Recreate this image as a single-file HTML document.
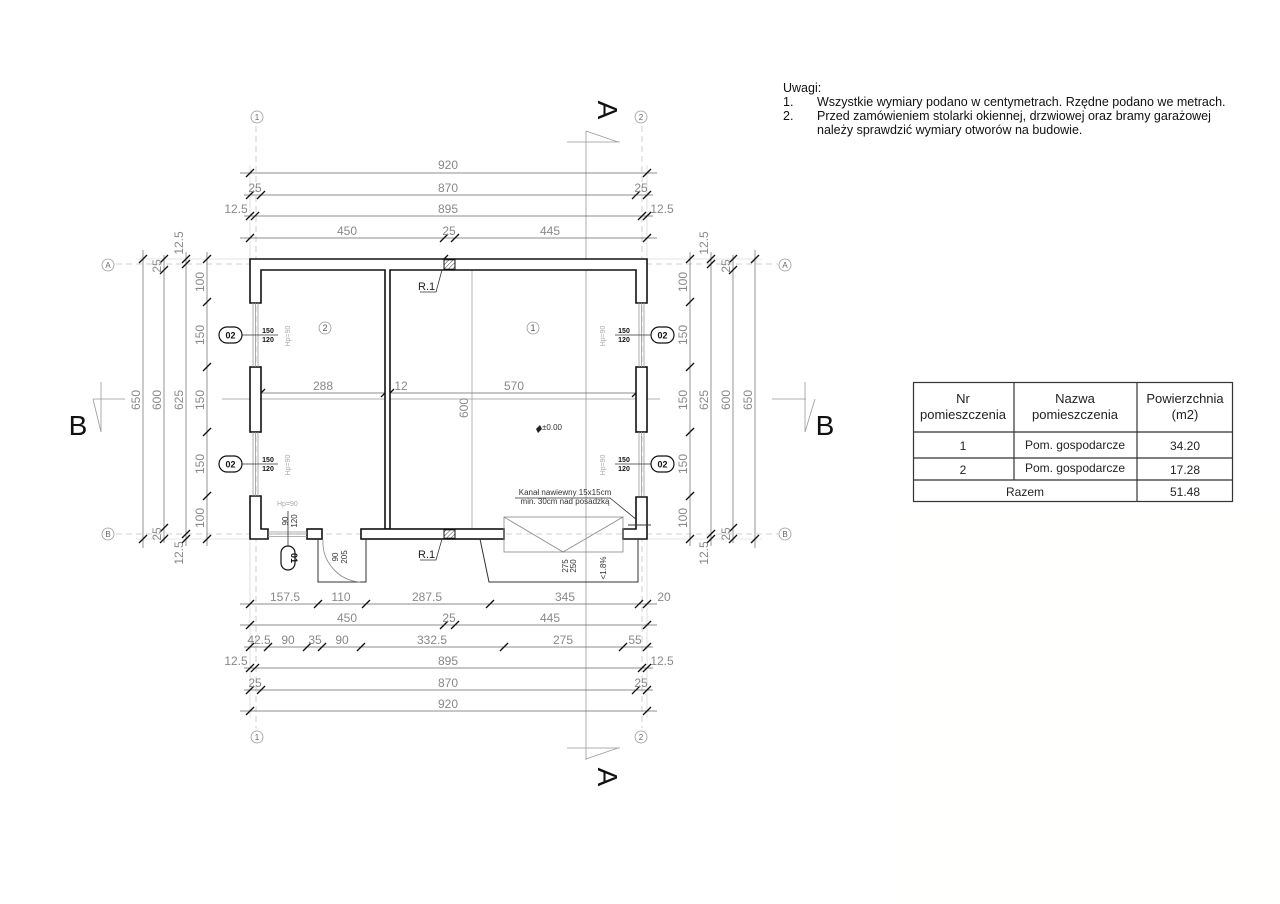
<!DOCTYPE html>
<html><head><meta charset="utf-8"><style>
html,body{margin:0;padding:0;background:#fff;}
svg{display:block;font-family:"Liberation Sans",sans-serif;}
.d{fill:#888;font-size:12px;text-anchor:middle;}
.dl{stroke:#666;stroke-width:0.7;fill:none;}
.ax{stroke:#c4c4c4;stroke-width:0.8;stroke-dasharray:6 4;fill:none;}
.w{fill:#fff;stroke:#111;stroke-width:1.6;}
.t line{stroke:#111;stroke-width:1.3;}
.note{font-size:12.5px;fill:#111;}
</style></head><body>
<svg width="1280" height="904" viewBox="0 0 1280 904" xmlns="http://www.w3.org/2000/svg">
<defs>
<g id="t" class="t"><line x1="-4" y1="4" x2="4" y2="-4"/></g>
<pattern id="h" width="3" height="3" patternUnits="userSpaceOnUse" patternTransform="rotate(45)"><line x1="0" y1="0" x2="0" y2="3" stroke="#444" stroke-width="1"/></pattern>
</defs>
<rect x="900" y="515" width="380" height="389" fill="#fffffd"/>

<text class="note" x="783" y="92">Uwagi:</text>
<text class="note" x="783" y="106">1.</text><text class="note" x="817" y="106">Wszystkie wymiary podano w centymetrach. Rzędne podano we metrach.</text>
<text class="note" x="783" y="120">2.</text><text class="note" x="817" y="120">Przed zamówieniem stolarki okiennej, drzwiowej oraz bramy garażowej</text>
<text class="note" x="817" y="134">należy sprawdzić wymiary otworów na budowie.</text>

<line class="ax" x1="116" y1="264" x2="778" y2="264"/>
<line class="ax" x1="116" y1="534" x2="778" y2="534"/>
<line class="ax" x1="256" y1="126" x2="256" y2="728"/>
<line class="ax" x1="642" y1="126" x2="642" y2="728"/>
<g fill="#fff" stroke="#999" stroke-width="0.8">
<circle cx="257" cy="117" r="6"/><circle cx="641" cy="117" r="6"/>
<circle cx="257" cy="737" r="6"/><circle cx="641" cy="737" r="6"/>
<circle cx="108" cy="265" r="6"/><circle cx="785" cy="265" r="6"/>
<circle cx="108" cy="534" r="6"/><circle cx="785" cy="534" r="6"/>
</g>
<g fill="#666" font-size="8" text-anchor="middle">
<text x="257" y="120">1</text><text x="641" y="120">2</text>
<text x="257" y="740">1</text><text x="641" y="740">2</text>
<text x="108" y="268">A</text><text x="785" y="268">A</text>
<text x="108" y="537">B</text><text x="785" y="537">B</text>
</g>

<g stroke="#999" stroke-width="0.8" fill="none">
<line x1="586" y1="131" x2="586" y2="760"/>
<line x1="567" y1="142" x2="620" y2="142"/><line x1="586" y1="131" x2="618" y2="142"/>
<line x1="567" y1="748" x2="620" y2="748"/><line x1="586" y1="759" x2="618" y2="748"/>
<line x1="93" y1="399" x2="125" y2="399"/><line x1="101" y1="382" x2="101" y2="432"/><line x1="93" y1="399" x2="101" y2="432"/>
<line x1="772" y1="399" x2="806" y2="399"/><line x1="805" y1="382" x2="805" y2="432"/><line x1="815" y1="399" x2="805" y2="432"/>
<line x1="222" y1="399" x2="660" y2="399"/>
</g>
<g font-size="28" fill="#111" text-anchor="middle">
<text transform="translate(598,110) rotate(90)">A</text>
<text transform="translate(598,777) rotate(90)">A</text>
<text x="78" y="435">B</text><text x="825" y="435">B</text>
</g>

<g stroke="#ccc" stroke-width="0.6">
<line x1="250" y1="165" x2="250" y2="259"/><line x1="647" y1="165" x2="647" y2="259"/>
<line x1="250" y1="539" x2="250" y2="718"/><line x1="647" y1="539" x2="647" y2="718"/>
<line x1="136" y1="259" x2="250" y2="259"/><line x1="136" y1="539" x2="250" y2="539"/>
<line x1="647" y1="259" x2="762" y2="259"/><line x1="647" y1="539" x2="762" y2="539"/>
</g>

<g class="dl">
<line x1="240" y1="173" x2="657" y2="173"/>
<line x1="244" y1="195" x2="653" y2="195"/>
<line x1="244" y1="216" x2="653" y2="216"/>
<line x1="240" y1="238" x2="657" y2="238"/>
<line x1="240" y1="604" x2="657" y2="604"/>
<line x1="240" y1="625" x2="657" y2="625"/>
<line x1="244" y1="647" x2="653" y2="647"/>
<line x1="244" y1="668" x2="653" y2="668"/>
<line x1="244" y1="690" x2="653" y2="690"/>
<line x1="240" y1="711" x2="657" y2="711"/>
<line x1="143" y1="250" x2="143" y2="548"/>
<line x1="164" y1="255" x2="164" y2="543"/>
<line x1="186" y1="252" x2="186" y2="546"/>
<line x1="207" y1="252" x2="207" y2="546"/>
<line x1="690" y1="252" x2="690" y2="546"/>
<line x1="711" y1="252" x2="711" y2="546"/>
<line x1="733" y1="255" x2="733" y2="543"/>
<line x1="755" y1="250" x2="755" y2="548"/>
<line x1="261" y1="393" x2="636" y2="393"/>
<line x1="472" y1="270" x2="472" y2="528" stroke="#999"/>
</g>
<g>
<use href="#t" x="250" y="173"/><use href="#t" x="647" y="173"/>
<use href="#t" x="250" y="195"/><use href="#t" x="261" y="195"/><use href="#t" x="636" y="195"/><use href="#t" x="647" y="195"/>
<use href="#t" x="250" y="216"/><use href="#t" x="255" y="216"/><use href="#t" x="642" y="216"/><use href="#t" x="647" y="216"/>
<use href="#t" x="250" y="238"/><use href="#t" x="444" y="238"/><use href="#t" x="455" y="238"/><use href="#t" x="647" y="238"/>
<use href="#t" x="250" y="604"/><use href="#t" x="318" y="604"/><use href="#t" x="366" y="604"/><use href="#t" x="490" y="604"/><use href="#t" x="639" y="604"/><use href="#t" x="647" y="604"/>
<use href="#t" x="250" y="625"/><use href="#t" x="444" y="625"/><use href="#t" x="455" y="625"/><use href="#t" x="647" y="625"/>
<use href="#t" x="250" y="647"/><use href="#t" x="268" y="647"/><use href="#t" x="307" y="647"/><use href="#t" x="322" y="647"/><use href="#t" x="361" y="647"/><use href="#t" x="504" y="647"/><use href="#t" x="623" y="647"/><use href="#t" x="647" y="647"/>
<use href="#t" x="250" y="668"/><use href="#t" x="255" y="668"/><use href="#t" x="642" y="668"/><use href="#t" x="647" y="668"/>
<use href="#t" x="250" y="690"/><use href="#t" x="261" y="690"/><use href="#t" x="636" y="690"/><use href="#t" x="647" y="690"/>
<use href="#t" x="250" y="711"/><use href="#t" x="647" y="711"/>
<use href="#t" x="143" y="259"/><use href="#t" x="143" y="539"/>
<use href="#t" x="164" y="270"/><use href="#t" x="164" y="528"/><use href="#t" x="164" y="259"/><use href="#t" x="164" y="539"/>
<use href="#t" x="186" y="264"/><use href="#t" x="186" y="534"/><use href="#t" x="186" y="259"/><use href="#t" x="186" y="539"/>
<use href="#t" x="207" y="259"/><use href="#t" x="207" y="302"/><use href="#t" x="207" y="367"/><use href="#t" x="207" y="432"/><use href="#t" x="207" y="496"/><use href="#t" x="207" y="539"/>
<use href="#t" x="690" y="259"/><use href="#t" x="690" y="302"/><use href="#t" x="690" y="367"/><use href="#t" x="690" y="432"/><use href="#t" x="690" y="496"/><use href="#t" x="690" y="539"/>
<use href="#t" x="711" y="264"/><use href="#t" x="711" y="534"/><use href="#t" x="711" y="259"/><use href="#t" x="711" y="539"/>
<use href="#t" x="733" y="270"/><use href="#t" x="733" y="528"/><use href="#t" x="733" y="259"/><use href="#t" x="733" y="539"/>
<use href="#t" x="755" y="259"/><use href="#t" x="755" y="539"/>
<use href="#t" x="261" y="393"/><use href="#t" x="385" y="393"/><use href="#t" x="390" y="393"/><use href="#t" x="636" y="393"/>
<use href="#t" x="444" y="259"/><use href="#t" x="473" y="264"/><use href="#t" x="473" y="534"/>
</g>
<g class="d">
<text x="448" y="169">920</text>
<text x="255" y="192">25</text><text x="448" y="192">870</text><text x="641" y="192">25</text>
<text x="236" y="213">12.5</text><text x="448" y="213">895</text><text x="662" y="213">12.5</text>
<text x="347" y="235">450</text><text x="449" y="235">25</text><text x="550" y="235">445</text>
<text x="285" y="601">157.5</text><text x="341" y="601">110</text><text x="427" y="601">287.5</text><text x="565" y="601">345</text><text x="664" y="601">20</text>
<text x="347" y="622">450</text><text x="449" y="622">25</text><text x="550" y="622">445</text>
<text x="259" y="644">42.5</text><text x="288" y="644">90</text><text x="315" y="644">35</text><text x="342" y="644">90</text><text x="432" y="644">332.5</text><text x="563" y="644">275</text><text x="635" y="644">55</text>
<text x="236" y="665">12.5</text><text x="448" y="665">895</text><text x="662" y="665">12.5</text>
<text x="255" y="687">25</text><text x="448" y="687">870</text><text x="641" y="687">25</text>
<text x="448" y="708">920</text>
<text x="323" y="390">288</text><text x="401" y="390">12</text><text x="514" y="390">570</text>
<text transform="translate(468,408) rotate(-90)">600</text>
<text transform="translate(140,400) rotate(-90)">650</text>
<text transform="translate(161,400) rotate(-90)">600</text>
<text transform="translate(183,400) rotate(-90)">625</text>
<text transform="translate(183,243) rotate(-90)">12.5</text>
<text transform="translate(183,553) rotate(-90)">12.5</text>
<text transform="translate(161,266) rotate(-90)">25</text>
<text transform="translate(161,534) rotate(-90)">25</text>
<text transform="translate(204,282) rotate(-90)">100</text>
<text transform="translate(204,335) rotate(-90)">150</text>
<text transform="translate(204,400) rotate(-90)">150</text>
<text transform="translate(204,464) rotate(-90)">150</text>
<text transform="translate(204,518) rotate(-90)">100</text>
<text transform="translate(687,282) rotate(-90)">100</text>
<text transform="translate(687,335) rotate(-90)">150</text>
<text transform="translate(687,400) rotate(-90)">150</text>
<text transform="translate(687,464) rotate(-90)">150</text>
<text transform="translate(687,518) rotate(-90)">100</text>
<text transform="translate(708,400) rotate(-90)">625</text>
<text transform="translate(708,243) rotate(-90)">12.5</text>
<text transform="translate(708,553) rotate(-90)">12.5</text>
<text transform="translate(730,400) rotate(-90)">600</text>
<text transform="translate(730,266) rotate(-90)">25</text>
<text transform="translate(730,534) rotate(-90)">25</text>
<text transform="translate(752,400) rotate(-90)">650</text>
</g>

<path class="w" d="M250,303 V259 H647 V303 H636 V270 H390 V529 H385 V270 H261 V303 Z"/>
<rect class="w" x="250" y="367" width="11" height="65"/>
<rect class="w" x="636" y="367" width="11" height="65"/>
<path class="w" d="M250,496 H261 V529 H268 V539 H250 Z"/>
<rect class="w" x="307" y="529" width="15" height="10"/>
<rect class="w" x="361" y="529" width="143" height="10"/>
<path class="w" d="M636,497 H647 V539 H623 V529 H636 Z"/>
<rect x="444" y="259.8" width="11" height="9.4" fill="url(#h)" stroke="#111" stroke-width="1"/>
<rect x="444" y="529.8" width="11" height="8.4" fill="url(#h)" stroke="#111" stroke-width="1"/>
<g stroke="#999" stroke-width="0.8">
<line x1="253" y1="303" x2="253" y2="367"/><line x1="255.5" y1="303" x2="255.5" y2="367"/><line x1="258" y1="303" x2="258" y2="367"/>
<line x1="253" y1="432" x2="253" y2="496"/><line x1="255.5" y1="432" x2="255.5" y2="496"/><line x1="258" y1="432" x2="258" y2="496"/>
<line x1="639" y1="303" x2="639" y2="367"/><line x1="641.5" y1="303" x2="641.5" y2="367"/><line x1="644" y1="303" x2="644" y2="367"/>
<line x1="639" y1="432" x2="639" y2="496"/><line x1="641.5" y1="432" x2="641.5" y2="496"/><line x1="644" y1="432" x2="644" y2="496"/>
<line x1="268" y1="532" x2="307" y2="532"/><line x1="268" y1="534" x2="307" y2="534"/><line x1="268" y1="536.5" x2="307" y2="536.5"/>
</g>
<g fill="none" stroke="#333" stroke-width="1">
<path d="M318,539 V582 H366 V539"/>
<path d="M323,540 A40,40 0 0 0 360,582" stroke="#888" stroke-width="0.8"/>
<path d="M480,539 L489,582 H638 V539"/>
<rect x="504" y="517" width="119" height="35" stroke="#888" stroke-width="0.8"/>
<path d="M504,517 L563,552 L623,517" stroke="#888" stroke-width="0.8"/>
<path d="M442,270 L436,292 H420" stroke-width="0.8"/>
<path d="M442,539 L436,560 H420" stroke-width="0.8"/>
<path d="M515,498 H610 L637,520" stroke-width="0.8"/>
<line x1="628" y1="525" x2="651" y2="525"/>
</g>
<g font-size="11" fill="#222">
<text x="418" y="290">R.1</text><text x="418" y="558">R.1</text>
</g>
<g font-size="8" fill="#333" text-anchor="middle">
<text x="565" y="495">Kanał nawiewny 15x15cm</text>
<text x="565" y="504">min. 30cm nad posadzką</text>
</g>
<g font-size="8" fill="#333">
<text transform="translate(568,566) rotate(-90)" text-anchor="middle">275</text>
<text transform="translate(576,566) rotate(-90)" text-anchor="middle">250</text>
<text transform="translate(606,568) rotate(-90)" text-anchor="middle">&lt;1.8%</text>
<text transform="translate(338,557) rotate(-90)" text-anchor="middle">90</text>
<text transform="translate(347,557) rotate(-90)" text-anchor="middle">205</text>
<text transform="translate(288,521) rotate(-90)" text-anchor="middle">90</text>
<text transform="translate(297,521) rotate(-90)" text-anchor="middle">120</text>
<text x="542" y="430">±0.00</text>
</g>
<g font-size="7" fill="#aaa">
<text transform="translate(290,336) rotate(-90)" text-anchor="middle">Hp=90</text>
<text transform="translate(290,465) rotate(-90)" text-anchor="middle">Hp=90</text>
<text transform="translate(605,336) rotate(-90)" text-anchor="middle">Hp=90</text>
<text transform="translate(605,465) rotate(-90)" text-anchor="middle">Hp=90</text>
<text x="277" y="506">Hp=90</text>
</g>
<path d="M536,429 l4,-4 l2,4 l-4,4 z" fill="#222"/>
<g fill="none" stroke="#999" stroke-width="0.8"><circle cx="325" cy="328" r="6"/><circle cx="533" cy="328" r="6"/></g>
<g font-size="9" fill="#555" text-anchor="middle"><text x="325" y="331">2</text><text x="533" y="331">1</text></g>
<g fill="#fff" stroke="#111" stroke-width="1.2">
<rect x="219" y="327" width="23" height="16" rx="8"/><rect x="219" y="456" width="23" height="16" rx="8"/>
<rect x="651" y="327" width="23" height="16" rx="8"/><rect x="651" y="456" width="23" height="16" rx="8"/>
<rect x="281" y="546" width="14" height="24" rx="7"/>
</g>
<g stroke="#333" stroke-width="0.8">
<line x1="242" y1="335" x2="278" y2="335"/><line x1="242" y1="464" x2="278" y2="464"/>
<line x1="615" y1="335" x2="651" y2="335"/><line x1="615" y1="464" x2="651" y2="464"/>
<line x1="288" y1="511" x2="288" y2="546"/>
</g>
<g font-size="9" fill="#111" text-anchor="middle" font-weight="bold">
<text x="230.5" y="338.5">02</text><text x="230.5" y="467.5">02</text>
<text x="662.5" y="338.5">02</text><text x="662.5" y="467.5">02</text>
<text transform="translate(291,558) rotate(90)">01</text>
</g>
<g font-size="7" fill="#111" font-weight="bold" text-anchor="middle">
<text x="268" y="333">150</text><text x="268" y="342">120</text>
<text x="268" y="462">150</text><text x="268" y="471">120</text>
<text x="624" y="333">150</text><text x="624" y="342">120</text>
<text x="624" y="462">150</text><text x="624" y="471">120</text>
</g>

<g fill="none" stroke="#333" stroke-width="1.2">
<rect x="913.5" y="382.5" width="319" height="119"/>
<line x1="913" y1="432" x2="1233" y2="432"/><line x1="913" y1="458" x2="1233" y2="458"/><line x1="913" y1="480" x2="1233" y2="480"/>
<line x1="1014" y1="382" x2="1014" y2="480"/><line x1="1137" y1="382" x2="1137" y2="502"/>
</g>
<g font-size="13" fill="#222" text-anchor="middle">
<text x="963" y="403">Nr</text><text x="963" y="419">pomieszczenia</text>
<text x="1075" y="403">Nazwa</text><text x="1075" y="419">pomieszczenia</text>
<text x="1185" y="403">Powierzchnia</text><text x="1185" y="419">(m2)</text>
<text x="963" y="450" font-size="12">1</text><text x="1075" y="449" font-size="12">Pom. gospodarcze</text><text x="1185" y="450" font-size="12">34.20</text>
<text x="963" y="474" font-size="12">2</text><text x="1075" y="472" font-size="12">Pom. gospodarcze</text><text x="1185" y="474" font-size="12">17.28</text>
<text x="1025" y="496" font-size="12">Razem</text><text x="1185" y="496" font-size="12">51.48</text>
</g>
</svg>
</body></html>
